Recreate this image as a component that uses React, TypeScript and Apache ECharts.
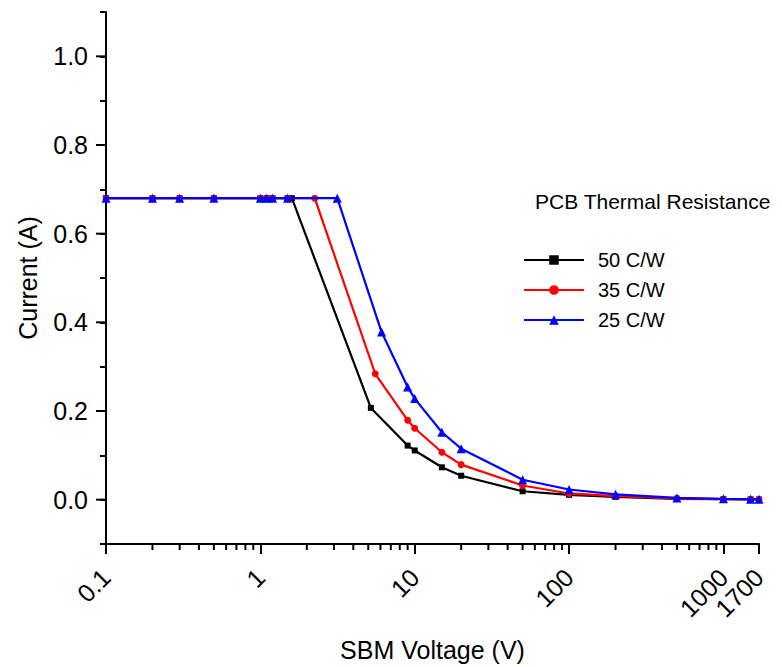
import React, { useEffect, useRef } from "react";
import * as echarts from "echarts";

const seriesNames = ["50 C/W", "35 C/W", "25 C/W"];
const seriesColors = ["#000000", "#ff0000", "#0000ff"];
const seriesSymbols = ["rect", "circle", "triangle"];
const seriesSymbolSizes = [6, 7, 9];

const x50 = [0.1, 0.2, 0.3, 0.5, 1, 1.1, 1.2, 1.5, 1.6, 5.2, 9, 10, 15, 20, 50, 100, 200, 500, 1000, 1500, 1700];
const y50 = [0.68, 0.68, 0.68, 0.68, 0.68, 0.68, 0.68, 0.68, 0.68, 0.207, 0.122, 0.111, 0.073, 0.054, 0.019, 0.011, 0.006, 0.002, 0.001, 0.0005, 0.0004];

const x35 = [0.1, 0.2, 0.3, 0.5, 1, 1.1, 1.2, 1.5, 2.25, 5.55, 9, 10, 15, 20, 50, 100, 200, 500, 1000, 1500, 1700];
const y35 = [0.68, 0.68, 0.68, 0.68, 0.68, 0.68, 0.68, 0.68, 0.68, 0.284, 0.179, 0.161, 0.107, 0.079, 0.032, 0.014, 0.008, 0.003, 0.001, 0.001, 0.0005];

const x25 = [0.1, 0.2, 0.3, 0.5, 1, 1.1, 1.2, 1.5, 3.15, 6.1, 9, 10, 15, 20, 50, 100, 200, 500, 1000, 1500, 1700];
const y25 = [0.68, 0.68, 0.68, 0.68, 0.68, 0.68, 0.68, 0.68, 0.68, 0.378, 0.254, 0.228, 0.152, 0.115, 0.045, 0.023, 0.012, 0.004, 0.002, 0.001, 0.001];

const xMinorTicks = [0.2, 0.3, 0.4, 0.5, 0.6, 0.7, 0.8, 0.9, 2, 3, 4, 5, 6, 7, 8, 9, 20, 30, 40, 50, 60, 70, 80, 90, 200, 300, 400, 500, 600, 700, 800, 900];
const yMajorTicks = [0, 0.2, 0.4, 0.6, 0.8, 1.0];

const legendTitle = "PCB Thermal Resistance";
const xTitle = "SBM Voltage (V)";
const yTitle = "Current (A)";

const FONT = "Liberation Sans, Arial, sans-serif";

export default function App() {
  const ref = useRef<HTMLDivElement>(null);
  useEffect(() => {
    if (!ref.current) return;
    const chart = echarts.init(ref.current, undefined, { renderer: "svg" });
    const xs = [x50, x35, x25];
    const ys = [y50, y35, y25];
    const lineSeries = seriesNames.map((name, i) => ({
      name,
      type: "line",
      data: xs[i].map((x, j) => [x, ys[i][j]]),
      symbol: seriesSymbols[i],
      symbolSize: seriesSymbolSizes[i],
      showAllSymbol: true,
      itemStyle: { color: seriesColors[i] },
      lineStyle: { color: seriesColors[i], width: 2.2 },
      z: 3 + i,
    }));
    const option: any = {
      animation: false,
      backgroundColor: "#ffffff",
      textStyle: { fontFamily: FONT },
      grid: { left: 106, right: 23, top: 12, bottom: 123, containLabel: false },
      legend: {
        data: seriesNames,
        orient: "vertical",
        left: 518,
        top: 245,
        itemWidth: 60,
        itemHeight: 12,
        itemGap: 10,
        textStyle: { fontSize: 20, color: "#000", fontFamily: FONT, lineHeight: 20, padding: [0, 0, 0, 9] },
      },
      graphic: [
        {
          type: "text",
          left: 535,
          top: 191,
          style: { text: legendTitle, font: `21px ${FONT}`, fill: "#000" },
        },
      ],
      xAxis: {
        type: "log",
        logBase: 10,
        min: 0.1,
        max: 1700,
        name: xTitle,
        nameLocation: "middle",
        nameGap: 93,
        nameTextStyle: { fontSize: 25, color: "#000", fontFamily: FONT },
        axisLine: { onZero: false, lineStyle: { color: "#000", width: 2 } },
        axisTick: { show: true, inside: false, length: 10, lineStyle: { color: "#000", width: 2 } },
        axisLabel: {
          rotate: 45,
          margin: 29,
          fontSize: 25,
          color: "#000",
          fontFamily: FONT,
          formatter: (v: number) => (v >= 1 ? String(Math.round(v)) : String(+(+v).toPrecision(3))),
        },
        splitLine: { show: false },
        minorTick: { show: false },
      },
      yAxis: {
        type: "value",
        min: -0.1,
        max: 1.1,
        interval: 0.1,
        name: yTitle,
        nameLocation: "middle",
        nameRotate: 90,
        nameGap: 66,
        nameTextStyle: { fontSize: 25, color: "#000", fontFamily: FONT },
        axisLine: { show: true, onZero: false, lineStyle: { color: "#000", width: 2 } },
        axisTick: { show: true, inside: false, length: 6, lineStyle: { color: "#000", width: 2 } },
        axisLabel: {
          margin: 18,
          fontSize: 25,
          color: "#000",
          fontFamily: FONT,
          formatter: (v: number) => {
            const k = Math.round(v * 10);
            if (k < 0 || k > 10 || k % 2 !== 0) return "";
            return (k / 10).toFixed(1);
          },
        },
        splitLine: { show: false },
      },
      series: [
        ...lineSeries,
        {
          type: "custom",
          silent: true,
          clip: false,
          data: xMinorTicks.map((v) => [v, -0.1]),
          encode: { x: 0, y: 1 },
          renderItem: (params: any, api: any) => {
            const p = api.coord([api.value(0), api.value(1)]);
            return {
              type: "line",
              shape: { x1: p[0], y1: p[1], x2: p[0], y2: p[1] + 6 },
              style: { stroke: "#000", lineWidth: 2 },
            };
          },
          z: 1,
        },
        {
          type: "custom",
          silent: true,
          clip: false,
          data: yMajorTicks.map((v) => [0.1, v]),
          encode: { x: 0, y: 1 },
          renderItem: (params: any, api: any) => {
            const p = api.coord([api.value(0), api.value(1)]);
            return {
              type: "line",
              shape: { x1: p[0] - 10, y1: p[1], x2: p[0], y2: p[1] },
              style: { stroke: "#000", lineWidth: 2 },
            };
          },
          z: 1,
        },
      ],
    };
    chart.setOption(option);
    return () => chart.dispose();
  }, []);
  return <div ref={ref} style={{ width: 782, height: 667, position: "absolute", left: 0, top: 0 }} />;
}
